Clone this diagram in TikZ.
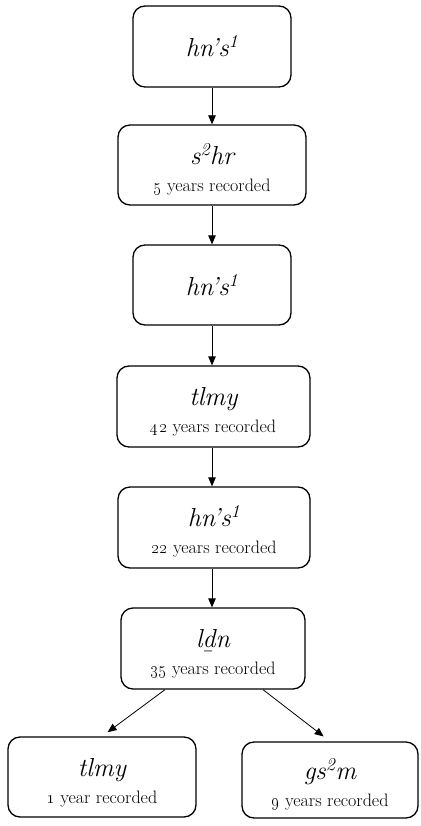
\documentclass[tikz,border=0pt]{standalone}
\usetikzlibrary{arrows.meta}
\newcommand{\ttltxt}[1]{{\fontsize{26}{26}\selectfont\itshape #1}}
\newcommand{\ttltwo}[1]{{\fontsize{26}{26}\selectfont\itshape\rule{0pt}{29pt}#1}}
\newcommand{\subtxt}[1]{{\fontsize{18}{27}\selectfont #1}}
\tikzset{
  box/.style={draw, line width=1.3pt, rounded corners=12pt, align=center, inner sep=0pt,
    font=\fontsize{18}{27}\selectfont},
  arr/.style={-{Triangle[length=9pt,width=7.5pt]}, line width=0.8pt},
}
\begin{document}
\begin{tikzpicture}[x=1pt,y=1pt]
\useasboundingbox (0,0) rectangle (420,-826);
\node[box, minimum width=158, minimum height=81] (b1) at (212,-46.5) {\ttltxt{hn’s\textsuperscript{1}}};
\node[box, minimum width=188, minimum height=80] (b2) at (212,-165) {\ttltwo{s\textsuperscript{2}hr}\\\subtxt{\oldstylenums{5} years recorded}};
\node[box, minimum width=158, minimum height=80] (b3) at (212,-285) {\ttltxt{hn’s\textsuperscript{1}}};
\node[box, minimum width=193, minimum height=81] (b4) at (213.5,-406.5) {\ttltwo{tlmy}\\\subtxt{\oldstylenums{42} years recorded}};
\node[box, minimum width=192, minimum height=81] (b5) at (214,-527.5) {\ttltwo{hn’s\textsuperscript{1}}\\\subtxt{\oldstylenums{22} years recorded}};
\node[box, minimum width=184, minimum height=81] (b6) at (213,-648.5) {\ttltwo{l\b{d}n}\\\subtxt{\oldstylenums{35} years recorded}};
\node[box, minimum width=188, minimum height=80] (b7) at (102,-777) {\ttltwo{tlmy}\\\subtxt{\oldstylenums{1} year recorded}};
\node[box, minimum width=176, minimum height=76] (b8) at (330,-780) {\ttltwo{gs\textsuperscript{2}m}\\\subtxt{\oldstylenums{9} years recorded}};
\draw[arr] (b1.south) -- (b2.north);
\draw[arr] (b2.south) -- (b3.north);
\draw[arr] (b3.south -| 212,0) -- (b4.north -| 212,0);
\draw[arr] (b4.south -| 212,0) -- (b5.north -| 212,0);
\draw[arr] (b5.south -| 212,0) -- (b6.north -| 212,0);
\draw[arr, shorten >=7pt] ([xshift=-48pt]b6.south) -- (b7.north);
\draw[arr, shorten >=8pt] ([xshift=50pt]b6.south) -- (b8.north);
\end{tikzpicture}
\end{document}
